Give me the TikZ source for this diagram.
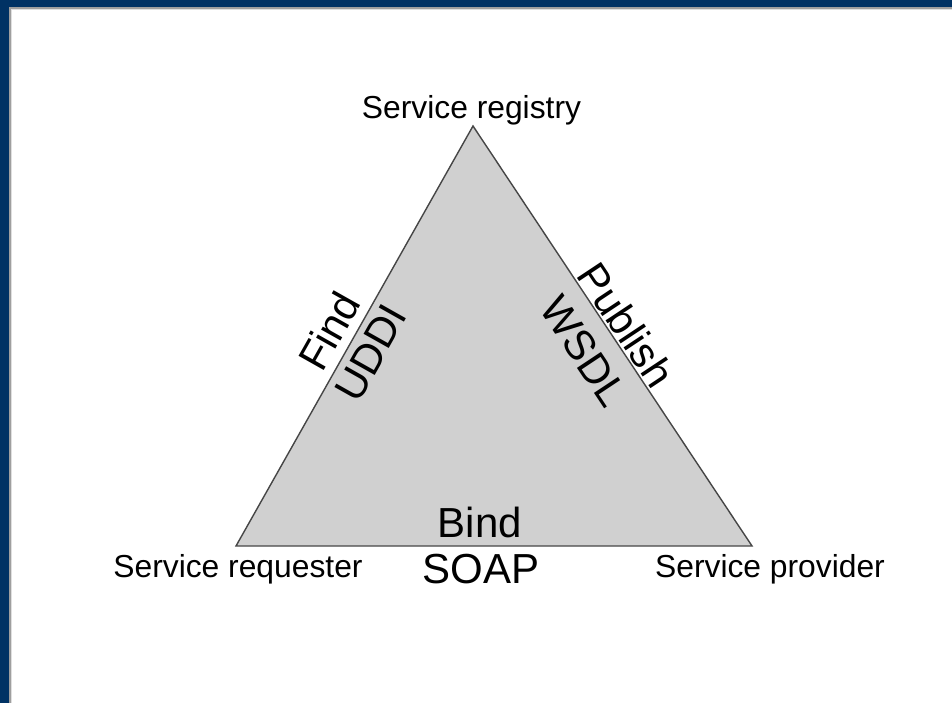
\documentclass[tikz,border=0pt]{standalone}
\usepackage{fontspec}
\setmainfont{Liberation Sans}
\definecolor{frameblue}{RGB}{0,50,100}
\definecolor{trifill}{RGB}{208,208,208}
\definecolor{triline}{RGB}{70,70,70}
\tikzset{
  rolelabel/.style={inner sep=0pt, font=\fontsize{31.8}{38}\selectfont},
  techlabel/.style={inner sep=0pt, font=\fontsize{42}{50}\selectfont},
}
\begin{document}
\begin{tikzpicture}[x=1pt,y=-1pt]
\useasboundingbox (0,0) rectangle (952,703);
\fill[white] (0,0) rectangle (952,703);
% frame
\fill[frameblue] (0,0) rectangle (952,7);
\fill[frameblue] (0,0) rectangle (9,703);
\fill[gray!75] (9,7) rectangle (952,9);
\fill[gray!75] (9,7) rectangle (11,703);
\fill[gray!25] (11,9) rectangle (952,10);
\fill[gray!25] (11,9) rectangle (12,703);
% triangle
\coordinate (reg) at (473,126);
\coordinate (req) at (236,546);
\coordinate (prov) at (752,546);
\filldraw[fill=trifill, draw=triline, line width=1.4pt, line join=miter] (reg) -- (prov) -- (req) -- cycle;
% vertex labels
\node[rolelabel, anchor=base] (lreg) at (471.5,119) {Service registry};
\node[rolelabel, anchor=base] (lreq) at (238,577) {Service requester};
\node[rolelabel, anchor=base] (lprov) at (770,577) {Service provider};
% edge labels
\node[techlabel, rotate=60.6] (find) at (329,331) {Find};
\node[techlabel, rotate=60.6] (uddi) at (371,353) {UDDI};
\node[techlabel, rotate=-56.4] (publish) at (626.5,325) {Publish};
\node[techlabel, rotate=-56.4] (wsdl) at (584,351.5) {WSDL};
\node[techlabel] (bind) at (480,522.5) {Bind};
\node[techlabel] (soap) at (481,569) {SOAP};
\end{tikzpicture}
\end{document}
